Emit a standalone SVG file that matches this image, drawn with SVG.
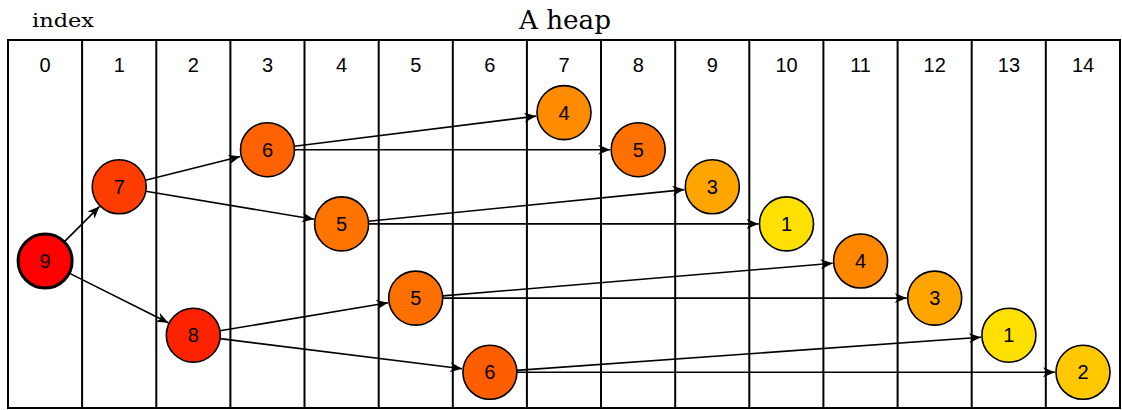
<svg xmlns="http://www.w3.org/2000/svg" width="1122" height="410" viewBox="0 0 1122 410">
<style>
.grid{stroke:#000;stroke-width:2;fill:none}
.idx{font-family:"Liberation Sans",Arial,sans-serif;font-size:20px;text-anchor:middle;fill:#000}
.node circle{stroke:#000;stroke-width:1.6}
.node text{font-family:"Liberation Sans",Arial,sans-serif;font-size:20px;text-anchor:middle;fill:#000}
.edge{stroke:#000;stroke-width:1.6;fill:none;marker-end:url(#arr)}
.title{font-family:"DejaVu Serif","Liberation Serif",serif;fill:#000}
</style>
<defs>
<marker id="arr" markerUnits="userSpaceOnUse" markerWidth="14" markerHeight="12" refX="12" refY="5" orient="auto">
<path d="M0,0 L12,5 L0,10 L3.5,5 z" fill="#000"/>
</marker>
</defs>
<rect width="1122" height="410" fill="#fff"/>
<text class="title" x="32" y="27" font-size="18" textLength="62" lengthAdjust="spacingAndGlyphs">index</text>
<text class="title" x="519" y="29" font-size="26" textLength="92" lengthAdjust="spacingAndGlyphs">A heap</text>
<g id="table">
<rect class="grid" x="8" y="40" width="1112" height="368"/>
<path class="grid" d="M82.1,40V408M156.3,40V408M230.4,40V408M304.5,40V408M378.7,40V408M452.8,40V408M526.9,40V408M601.0,40V408M675.2,40V408M749.3,40V408M823.4,40V408M897.6,40V408M971.7,40V408M1045.8,40V408"/>
<text class="idx" x="45.1" y="72">0</text>
<text class="idx" x="119.2" y="72">1</text>
<text class="idx" x="193.3" y="72">2</text>
<text class="idx" x="267.5" y="72">3</text>
<text class="idx" x="341.6" y="72">4</text>
<text class="idx" x="415.7" y="72">5</text>
<text class="idx" x="489.9" y="72">6</text>
<text class="idx" x="564.0" y="72">7</text>
<text class="idx" x="638.2" y="72">8</text>
<text class="idx" x="712.3" y="72">9</text>
<text class="idx" x="786.5" y="72">10</text>
<text class="idx" x="860.6" y="72">11</text>
<text class="idx" x="934.7" y="72">12</text>
<text class="idx" x="1008.9" y="72">13</text>
<text class="idx" x="1083.0" y="72">14</text>
</g>
<g id="connectors">
<line class="edge" x1="64.2" y1="241.9" x2="99.4" y2="206.6"/>
<line class="edge" x1="69.2" y1="273.1" x2="168.3" y2="322.7"/>
<line class="edge" x1="145.4" y1="180.2" x2="240.3" y2="156.5"/>
<line class="edge" x1="145.8" y1="191.2" x2="314.0" y2="219.3"/>
<line class="edge" x1="219.9" y1="330.8" x2="388.1" y2="302.7"/>
<line class="edge" x1="220.1" y1="338.6" x2="462.1" y2="368.8"/>
<line class="edge" x1="294.3" y1="146.3" x2="536.2" y2="116.1"/>
<line class="edge" x1="294.5" y1="149.7" x2="610.2" y2="149.7"/>
<line class="edge" x1="368.5" y1="221.2" x2="684.4" y2="189.6"/>
<line class="edge" x1="368.6" y1="223.9" x2="758.5" y2="223.9"/>
<line class="edge" x1="442.6" y1="295.9" x2="832.7" y2="263.3"/>
<line class="edge" x1="442.7" y1="298.1" x2="906.7" y2="298.1"/>
<line class="edge" x1="516.8" y1="370.4" x2="981.0" y2="337.2"/>
<line class="edge" x1="516.9" y1="372.3" x2="1055.0" y2="372.3"/>
</g>
<g id="n0" class="node"><circle cx="45.1" cy="261" r="27" fill="#ff0000" style="stroke-width:3"/><text x="45.1" y="268">9</text></g>
<g id="n1" class="node"><circle cx="119.2" cy="186.8" r="27" fill="#ff3d00"/><text x="119.2" y="193.8">7</text></g>
<g id="n2" class="node"><circle cx="193.3" cy="335.2" r="27" fill="#ff2200"/><text x="193.3" y="342.2">8</text></g>
<g id="n3" class="node"><circle cx="267.5" cy="149.7" r="27" fill="#ff6200"/><text x="267.5" y="156.7">6</text></g>
<g id="n4" class="node"><circle cx="341.6" cy="223.9" r="27" fill="#ff7400"/><text x="341.6" y="230.9">5</text></g>
<g id="n5" class="node"><circle cx="415.7" cy="298.1" r="27" fill="#ff7000"/><text x="415.7" y="305.1">5</text></g>
<g id="n6" class="node"><circle cx="489.9" cy="372.3" r="27" fill="#ff5e00"/><text x="489.9" y="379.3">6</text></g>
<g id="n7" class="node"><circle cx="564.0" cy="112.6" r="27" fill="#ff8c00"/><text x="564.0" y="119.6">4</text></g>
<g id="n8" class="node"><circle cx="638.2" cy="149.7" r="27" fill="#ff7000"/><text x="638.2" y="156.7">5</text></g>
<g id="n9" class="node"><circle cx="712.3" cy="186.8" r="27" fill="#ffa500"/><text x="712.3" y="193.8">3</text></g>
<g id="n10" class="node"><circle cx="786.5" cy="223.9" r="27" fill="#ffe000"/><text x="786.5" y="230.9">1</text></g>
<g id="n11" class="node"><circle cx="860.6" cy="261" r="27" fill="#ff8800"/><text x="860.6" y="268">4</text></g>
<g id="n12" class="node"><circle cx="934.7" cy="298.1" r="27" fill="#ffa500"/><text x="934.7" y="305.1">3</text></g>
<g id="n13" class="node"><circle cx="1008.9" cy="335.2" r="27" fill="#ffe000"/><text x="1008.9" y="342.2">1</text></g>
<g id="n14" class="node"><circle cx="1083.0" cy="372.3" r="27" fill="#ffc800"/><text x="1083.0" y="379.3">2</text></g>
</svg>
